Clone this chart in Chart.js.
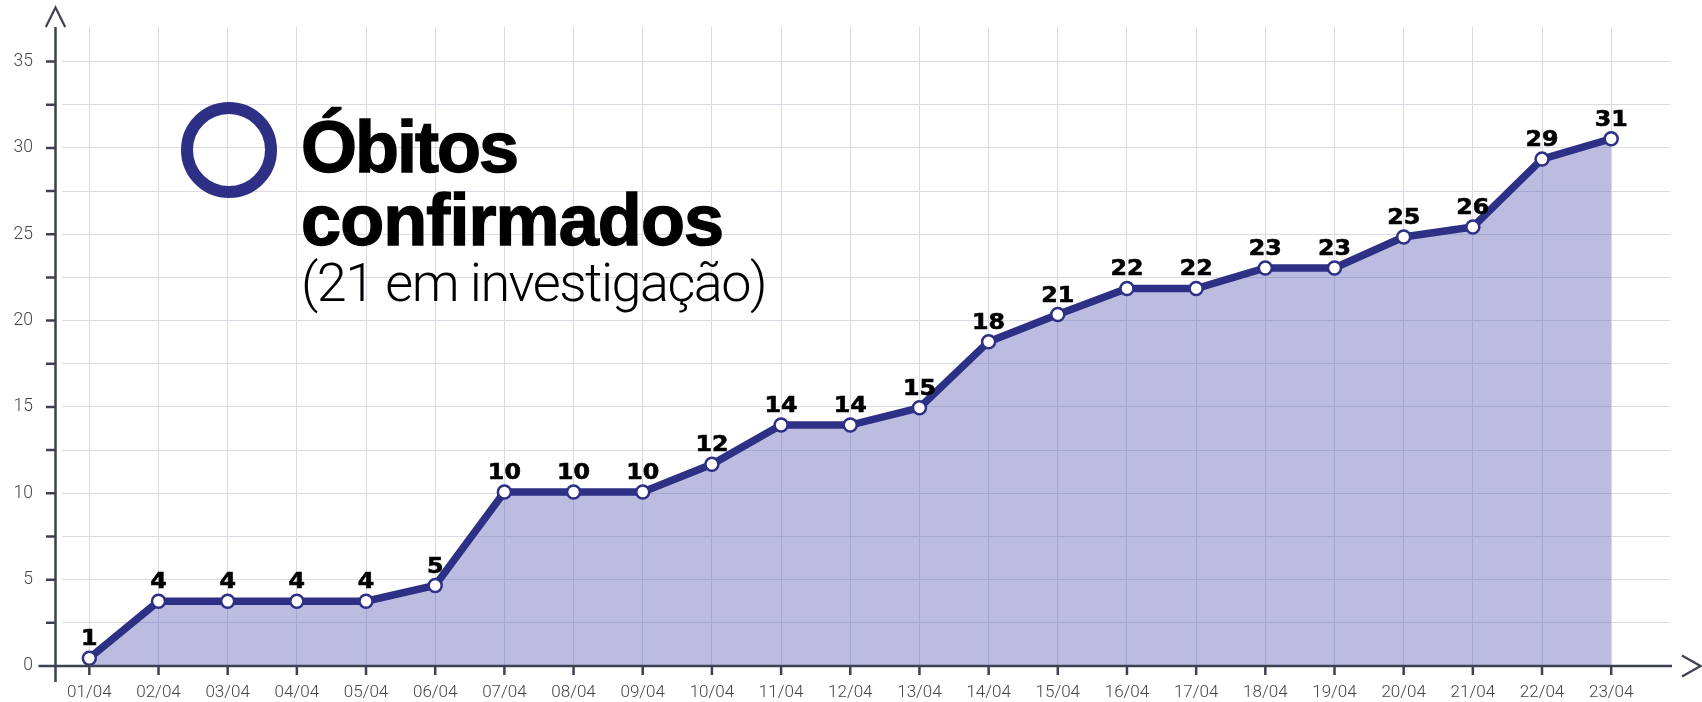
<!DOCTYPE html>
<html lang="pt">
<head>
<meta charset="utf-8">
<title>Óbitos confirmados</title>
<script src="https://cdn.jsdelivr.net/npm/chart.js@4.4.1/dist/chart.umd.min.js"></script>
<style>
  html, body { margin: 0; padding: 0; background: #fff; }
  #wrap { position: relative; width: 1702px; height: 702px; overflow: hidden; }
  #chart { position: absolute; left: 0; top: 0; }
  .ring {
    position: absolute; left: 181px; top: 102px; width: 96px; height: 96px;
    box-sizing: border-box; border: 12px solid #2e3085; border-radius: 50%;
  }
  .title {
    position: absolute; left: 301px; top: 111px; margin: 0;
    font: bold 72px/72.5px "Liberation Sans", Arial, sans-serif;
    color: #000; -webkit-text-stroke: 1.4px #000;
  }
  .title .l1 { letter-spacing: -2px; }
  .title .l2 { letter-spacing: -0.9px; }
  .sub {
    position: absolute; left: 301px; top: 256px; margin: 0;
    font: 300 54px/54px Roboto, sans-serif; letter-spacing: -1.5px; color: #000;
  }
</style>
</head>
<body>
<div id="wrap">
  <canvas id="chart" width="1702" height="702"></canvas>
  <div class="ring"></div>
  <div class="title"><span class="l1">Óbitos</span><br><span class="l2">confirmados</span></div>
  <div class="sub">(21 em investigação)</div>
</div>
<script>
// dates on the x axis
const dates = ['01/04', '02/04', '03/04', '04/04', '05/04', '06/04', '07/04', '08/04',
  '09/04', '10/04', '11/04', '12/04', '13/04', '14/04', '15/04', '16/04', '17/04',
  '18/04', '19/04', '20/04', '21/04', '22/04', '23/04'];

// numbers printed above each point
const counts = [1, 4, 4, 4, 4, 5, 10, 10, 10, 12, 14, 14, 15, 18, 21, 22, 22, 23, 23, 25, 26, 29, 31];

// where each point actually sits on the y axis in the picture
const plotted = [0.45, 3.75, 3.75, 3.75, 3.75, 4.66, 10.08, 10.08, 10.08, 11.68, 13.95, 13.95,
  14.95, 18.78, 20.35, 21.86, 21.86, 23.05, 23.05, 24.84, 25.42, 29.35, 30.53];

const LINE  = '#2e3085';
const AXIS  = '#3c4250';
const GRID  = '#d9dbe3';
const LABEL = '#454545';

// axis lines, small ticks and the two arrow heads
const axisDecor = {
  id: 'axisDecor',
  afterDraw(chart) {
    const { ctx, chartArea, scales: { x, y } } = chart;
    const ax = chartArea.left - 6.5;
    const y0 = y.getPixelForValue(0);
    ctx.save();
    ctx.strokeStyle = AXIS;
    ctx.lineWidth = 2.5;
    ctx.beginPath();
    ctx.moveTo(ax, chartArea.top);
    ctx.lineTo(ax, y0 + 16);
    ctx.moveTo(ax - 17, y0);
    ctx.lineTo(chartArea.right + 2, y0);
    y.ticks.forEach(t => {
      const py = y.getPixelForValue(t.value);
      ctx.moveTo(ax - 9.5, py);
      ctx.lineTo(ax, py);
    });
    x.ticks.forEach(t => {
      const px = x.getPixelForValue(t.value);
      ctx.moveTo(px, y0);
      ctx.lineTo(px, y0 + 9);
    });
    ctx.stroke();

    ctx.lineWidth = 2.2;
    ctx.beginPath();
    ctx.moveTo(ax - 9.7, chartArea.top);
    ctx.lineTo(ax, chartArea.top - 19.5);
    ctx.lineTo(ax + 9.7, chartArea.top);
    ctx.moveTo(chartArea.right + 12, y0 - 10.5);
    ctx.lineTo(chartArea.right + 30.5, y0);
    ctx.lineTo(chartArea.right + 12, y0 + 10.5);
    ctx.stroke();
    ctx.restore();
  }
};

// bold value labels above the points (slightly widened, the original face is a wide heavy sans)
const valueLabels = {
  id: 'valueLabels',
  afterDatasetsDraw(chart) {
    const { ctx } = chart;
    const pts = chart.getDatasetMeta(0).data;
    ctx.save();
    ctx.font = 'bold 21px "DejaVu Sans", sans-serif';
    ctx.fillStyle = '#000';
    ctx.strokeStyle = '#000';
    ctx.lineWidth = 0.6;
    ctx.textAlign = 'center';
    ctx.textBaseline = 'alphabetic';
    pts.forEach((p, i) => {
      ctx.save();
      ctx.translate(p.x, p.y - 13);
      ctx.scale(1.13, 1);
      ctx.fillText(String(counts[i]), 0, 0);
      ctx.strokeText(String(counts[i]), 0, 0);
      ctx.restore();
    });
    ctx.restore();
  }
};

new Chart(document.getElementById('chart'), {
  type: 'line',
  data: {
    datasets: [{
      data: plotted.map((v, i) => ({ x: i, y: v })),
      borderColor: LINE,
      borderWidth: 7.5,
      backgroundColor: 'rgba(90, 92, 180, 0.41)',
      fill: 'origin',
      tension: 0,
      pointRadius: 6.5,
      pointBorderWidth: 2.5,
      pointBackgroundColor: '#fff',
      pointBorderColor: LINE,
    }],
  },
  options: {
    responsive: false,
    animation: false,
    layout: { padding: { top: 27, right: 32, left: 0, bottom: 0 } },
    plugins: { legend: { display: false }, tooltip: { enabled: false } },
    scales: {
      x: {
        type: 'linear',
        min: -0.395,
        max: 22.85,
        afterFit: s => { s.height = 36; s.paddingLeft = 0; s.paddingRight = 0; },
        grid: { color: GRID, lineWidth: 1, drawTicks: false },
        border: { display: false },
        ticks: {
          stepSize: 1,
          includeBounds: false,
          autoSkip: false,
          maxRotation: 0,
          padding: 17,
          color: LABEL,
          font: { family: 'Roboto', size: 17, weight: 300 },
          callback: v => (Number.isInteger(v) && dates[v]) ? dates[v] : '',
        },
      },
      y: {
        min: 0,
        max: 37,
        afterFit: s => { s.width = 62; s.paddingTop = 0; s.paddingBottom = 0; },
        grid: { color: GRID, lineWidth: 1, drawTicks: false },
        border: { display: false },
        ticks: {
          stepSize: 2.5,
          includeBounds: false,
          padding: 29,
          color: LABEL,
          font: { family: 'Roboto', size: 17.5, weight: 300 },
          callback: v => (v % 5 === 0 ? String(v) : ''),
        },
      },
    },
  },
  plugins: [axisDecor, valueLabels],
});
</script>
</body>
</html>
